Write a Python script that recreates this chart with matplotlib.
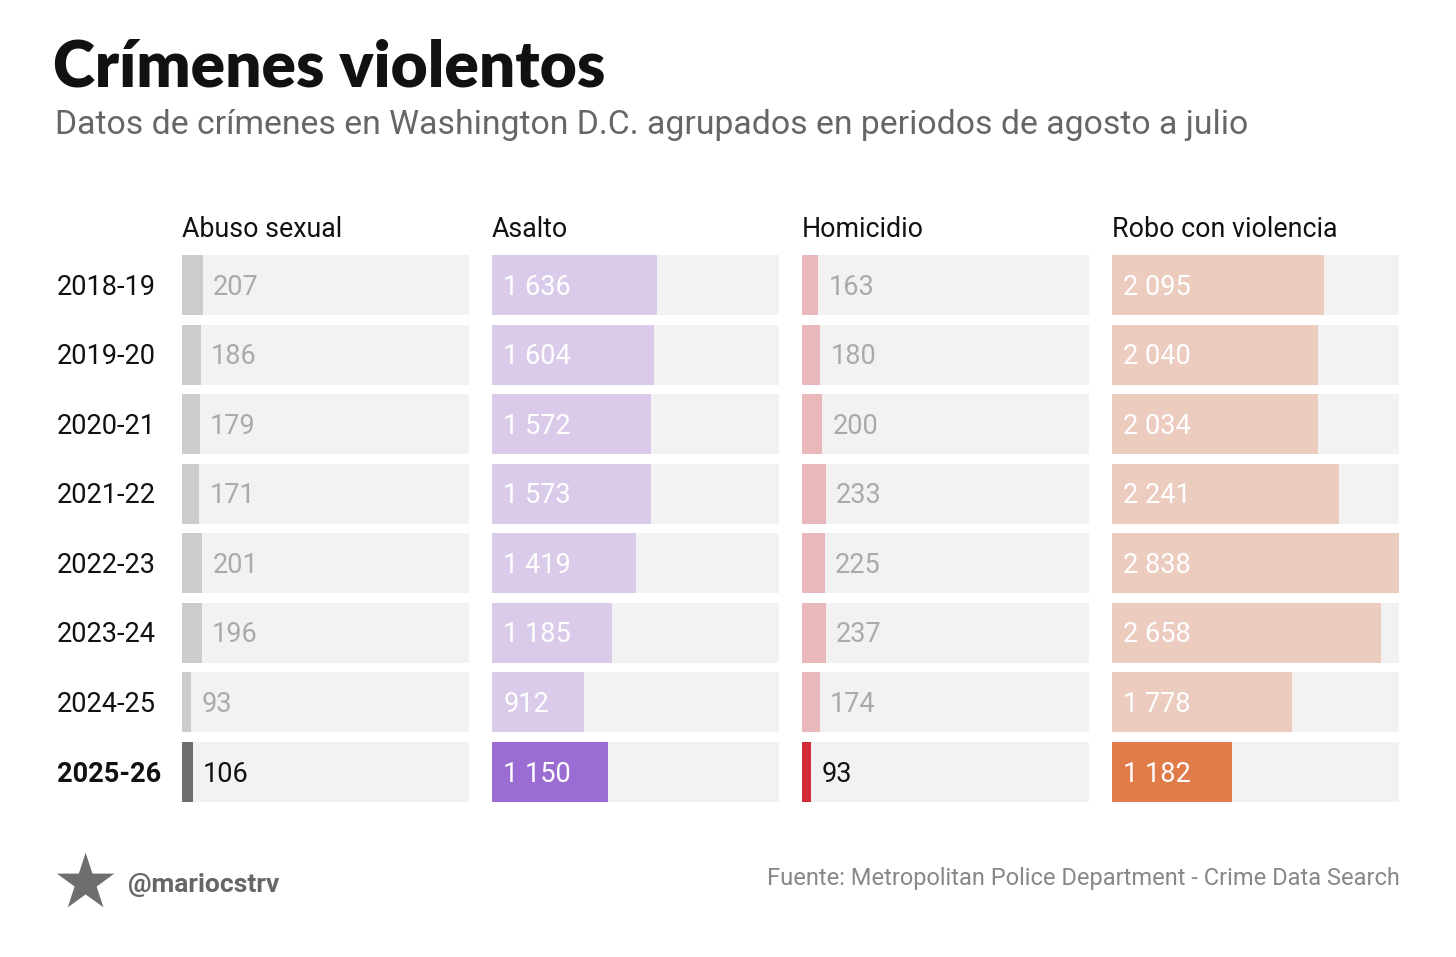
import matplotlib.pyplot as plt

# datos
periodos = ["2018-19", "2019-20", "2020-21", "2021-22", "2022-23", "2023-24", "2024-25", "2025-26"]
categorias = ["Abuso sexual", "Asalto", "Homicidio", "Robo con violencia"]
abuso = [207, 186, 179, 171, 201, 196, 93, 106]
asalto = [1636, 1604, 1572, 1573, 1419, 1185, 912, 1150]
homicidio = [163, 180, 200, 233, 225, 237, 174, 93]
robo = [2095, 2040, 2034, 2241, 2838, 2658, 1778, 1182]

series = [abuso, asalto, homicidio, robo]
col_pasado = ["#cccccc", "#dacbea", "#e8b8bb", "#ecccbf"]
col_actual = ["#6e6e6e", "#9b6dd3", "#d12b38", "#e07b4a"]
etiqueta_dentro = [False, True, False, True]

W, H = 1456, 957
fig = plt.figure(figsize=(W / 100, H / 100), dpi=100)
plt.rcParams["font.family"] = ["Roboto", "DejaVu Sans"]

maximo = max(max(s) for s in series)
n = len(periodos)
top_px, bot_px = 255, 802
x0s = [182, 492, 802, 1112]
ancho = 287

for i, (cat, vals) in enumerate(zip(categorias, series)):
    ax = fig.add_axes([x0s[i] / W, 1 - bot_px / H, ancho / W, (bot_px - top_px) / H])
    h = 0.862
    ys = range(n)
    ax.barh(ys, [maximo] * n, height=h, color="#f2f2f2", zorder=1)
    colores = [col_pasado[i]] * (n - 1) + [col_actual[i]]
    ax.barh(ys, vals, height=h, color=colores, zorder=2)
    ax.set_xlim(0, maximo)
    ax.set_ylim(n - 1 + h / 2, -h / 2)
    ax.axis("off")
    for j, v in enumerate(vals):
        txt = f"{v:,}".replace(",", " ")
        actual = j == n - 1
        if etiqueta_dentro[i]:
            ax.text(maximo * 0.04, j + 0.03, txt, va="center", ha="left", fontsize=19.5,
                    color="white", zorder=3)
        else:
            ax.text(v + maximo * 0.035, j + 0.03, txt, va="center", ha="left", fontsize=19.5,
                    color="#111111" if actual else "#aaaaaa", zorder=3)
    ax.text(0, -0.5 - 0.1, cat, va="bottom", ha="left", fontsize=19.3, color="#111111")
    if i == 0:
        for j, p in enumerate(periodos):
            ax.text(-0.437 * maximo, j + 0.03, p, va="center", ha="left", fontsize=19.5,
                    color="#111111", fontweight="bold" if j == n - 1 else "normal")

# titulo y subtitulo
fig.text(53 / W, 1 - 68 / H, "Crímenes violentos", fontsize=46, fontweight="heavy",
         family=["Lato", "DejaVu Sans"], color="#111111", va="center", ha="left")
fig.text(55 / W, 1 - 125 / H,
         "Datos de crímenes en Washington D.C. agrupados en periodos de agosto a julio",
         fontsize=24.3, color="#666666", va="center", ha="left")

# pie
fig.text(1400 / W, 1 - 879 / H, "Fuente: Metropolitan Police Department - Crime Data Search",
         fontsize=17, color="#888888", va="center", ha="right")
fig.text(128 / W, 1 - 885 / H, "@mariocstrv", fontsize=19, fontweight="bold",
         color="#666666", va="center", ha="left")
fig.text(85 / W, 1 - 886 / H, "★", fontsize=54, color="#6e6e6e", va="center", ha="center",
         family=["DejaVu Sans"])

fig.savefig("out.png", dpi=100, facecolor="white")
